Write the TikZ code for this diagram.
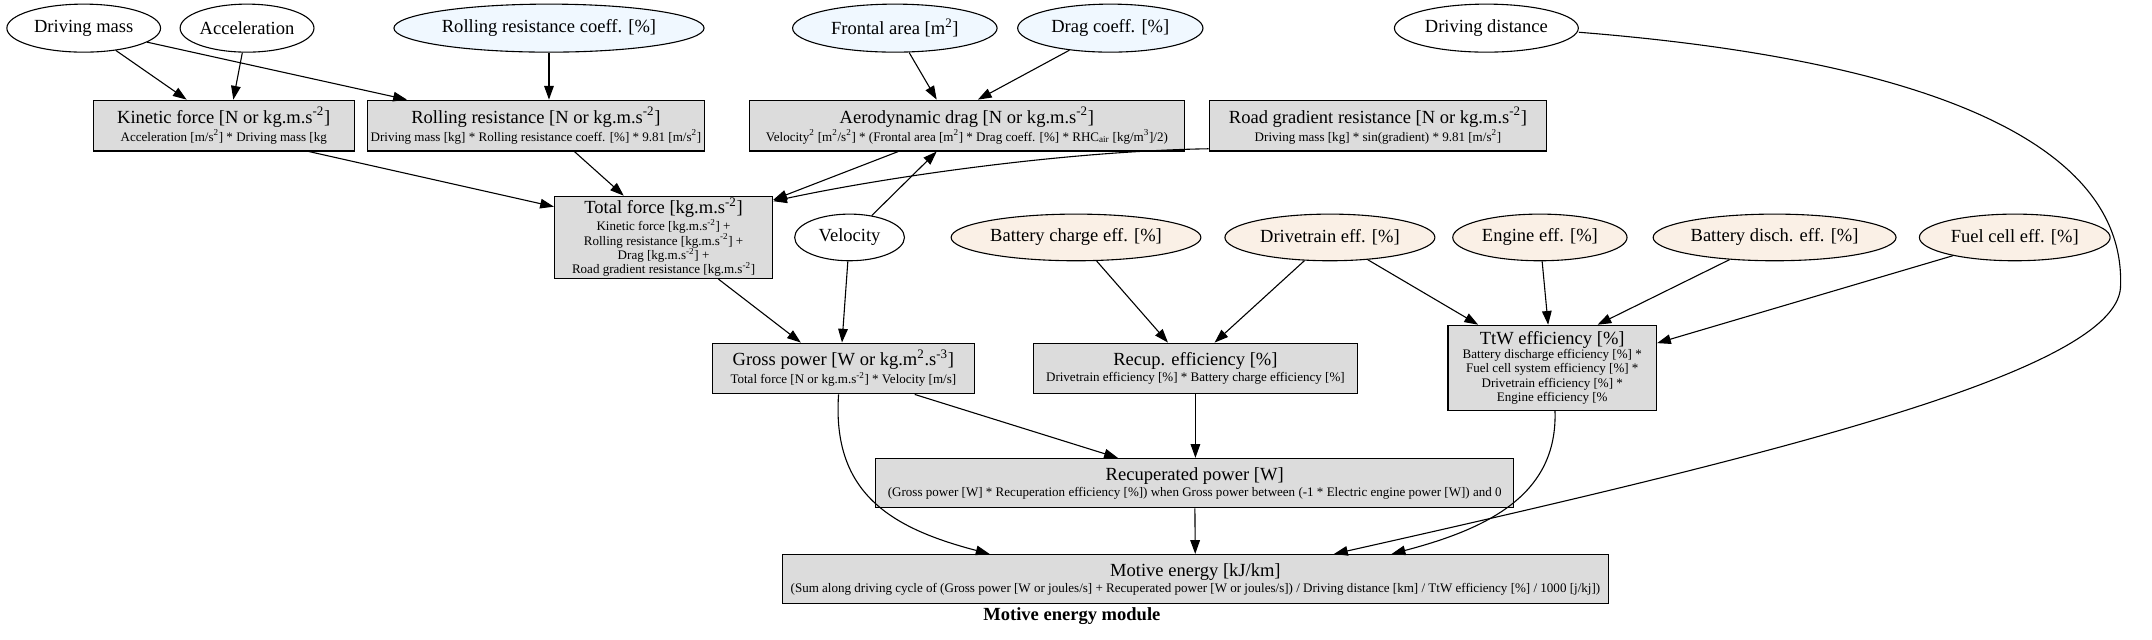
\documentclass[tikz,border=0pt]{standalone}
\usepackage{fontspec}
\setmainfont{Liberation Serif}
\usetikzlibrary{arrows.meta,shapes.geometric}

\definecolor{boxgray}{HTML}{DCDCDC}
\definecolor{inblue}{HTML}{F0F8FF}
\definecolor{inlinen}{HTML}{FAF0E6}
\newcommand\headfont{\fontsize{13.5}{14}\selectfont}
\newcommand\bodyfont{\fontsize{9.5}{10.5}\selectfont}
\tikzset{
  param/.style={draw, ellipse, line width=0.8pt, inner sep=0pt, minimum height=35pt, font=\headfont},
  calc/.style={draw, rectangle, line width=0.8pt, fill=boxgray, align=center, inner sep=0pt, font=\bodyfont},
  link/.style={-{Triangle[length=10pt,width=7pt]}, line width=0.8pt},
}

\begin{document}
\begin{tikzpicture}[x=1pt, y=-1pt]
    \useasboundingbox (0,0) rectangle (1568,465.6);
    % inputs
    \node[param, minimum width=112pt] (drivingmass) at (61,20.5) {Driving mass};
    \node[param, minimum width=96pt] (acceleration) at (180,20.5) {Acceleration};
    \node[param, minimum width=226pt, fill=inblue] (rrcoeff) at (400,20.5) {Rolling resistance coeff. [\%]};
    \node[param, minimum width=149pt, fill=inblue] (frontal) at (652,20.5) {Frontal area [m\textsuperscript{2}]};
    \node[param, minimum width=135pt, fill=inblue] (dragcoeff) at (809,20.5) {Drag coeff. [\%]};
    \node[param, minimum width=134pt] (drivingdistance) at (1083,20.5) {Driving distance};
    \node[param, minimum width=80pt, minimum height=34pt] (velocity) at (619,173) {Velocity};
    \foreach \name/\x/\w/\txt in {batterycharge/784/182/Battery charge eff. [\%],
        drivetrain/969/153/Drivetrain eff. [\%], engine/1122/127/Engine eff. [\%],
        batterydisch/1293/177/Battery disch. eff. [\%], fuelcell/1468/139/Fuel cell eff. [\%]} {
      \node[param, minimum width=\w pt, minimum height=34pt, fill=inlinen] (\name) at (\x,173) {\txt};
    }

    % calculations
    \node[calc, minimum width=190pt, minimum height=37pt] (kinetic) at (163,91.5)
      {{\headfont Kinetic force [N or kg.m.s\textsuperscript{-2}]}\\[1pt]
       Acceleration [m/s\textsuperscript{2}] * Driving mass [kg};
    \node[calc, minimum width=245pt, minimum height=37pt] (rolling) at (390.5,91.5)
      {{\headfont Rolling resistance [N or kg.m.s\textsuperscript{-2}]}\\[1pt]
       Driving mass [kg] * Rolling resistance coeff. [\%] * 9.81 [m/s\textsuperscript{2}]};
    \node[calc, minimum width=317pt, minimum height=37pt] (aero) at (704.5,91.5)
      {{\headfont Aerodynamic drag [N or kg.m.s\textsuperscript{-2}]}\\[1pt]
       Velocity\textsuperscript{2} [m\textsuperscript{2}/s\textsuperscript{2}] * (Frontal area [m\textsuperscript{2}] * Drag coeff. [\%] * RHC\textsubscript{air} [kg/m\textsuperscript{3}]/2)};
    \node[calc, minimum width=246pt, minimum height=37pt] (roadgrad) at (1004,91.5)
      {{\headfont Road gradient resistance [N or kg.m.s\textsuperscript{-2}]}\\[1pt]
       Driving mass [kg] * sin(gradient) * 9.81 [m/s\textsuperscript{2}]};
    \node[calc, minimum width=159pt, minimum height=60pt] (totalforce) at (483.5,173)
      {{\headfont Total force [kg.m.s\textsuperscript{-2}]}\\
       Kinetic force [kg.m.s\textsuperscript{-2}] +\\
       Rolling resistance [kg.m.s\textsuperscript{-2}] +\\
       Drag [kg.m.s\textsuperscript{-2}] +\\
       Road gradient resistance [kg.m.s\textsuperscript{-2}]};
    \node[calc, minimum width=191pt, minimum height=37pt] (grosspower) at (614.5,268.5)
      {{\headfont Gross power [W or kg.m\textsuperscript{2}.s\textsuperscript{-3}]}\\[1pt]
       Total force [N or kg.m.s\textsuperscript{-2}] * Velocity [m/s]};
    \node[calc, minimum width=236pt, minimum height=37pt] (recupeff) at (871,268.5)
      {{\headfont Recup. efficiency [\%]}\\[1pt]
       Drivetrain efficiency [\%] * Battery charge efficiency [\%]};
    \node[calc, minimum width=152pt, minimum height=62pt] (ttw) at (1131,268)
      {{\headfont TtW efficiency [\%]}\\
       Battery discharge efficiency [\%] *\\
       Fuel cell system efficiency [\%] *\\
       Drivetrain efficiency [\%] *\\
       Engine efficiency [\%};
    \node[calc, minimum width=465pt, minimum height=36pt] (recuppower) at (870.5,352)
      {{\headfont Recuperated power [W]}\\[1pt]
       (Gross power [W] * Recuperation efficiency [\%]) when Gross power between (-1 * Electric engine power [W]) and 0};
    \node[calc, minimum width=602pt, minimum height=36pt] (motive) at (871,422)
      {{\headfont Motive energy [kJ/km]}\\[1pt]
       (Sum along driving cycle of (Gross power [W or joules/s] + Recuperated power [W or joules/s]) / Driving distance [km] / TtW efficiency [\%] / 1000 [j/kj])};
    \node[font=\headfont\bfseries] (title) at (781,449) {Motive energy module};

    % connections
    \draw[link] (drivingmass) -- ([xshift=-27pt]kinetic.north);
    \draw[link] (acceleration) -- ([xshift=7pt]kinetic.north);
    \draw[link] (drivingmass) -- ([xshift=-94pt]rolling.north);
    \draw[link] (rrcoeff) -- (rrcoeff |- rolling.north);
    \draw[link] (frontal) -- ([xshift=-22pt]aero.north);
    \draw[link] (dragcoeff) -- ([xshift=8pt]aero.north);
    \draw[link] ([xshift=62pt]kinetic.south) -- ([yshift=-8pt]totalforce.north west);
    \draw[link] ([xshift=28pt]rolling.south) -- ([xshift=-29pt]totalforce.north);
    \draw[link] ([xshift=-50pt]aero.south) -- ([yshift=-3pt]totalforce.north east);
    \draw[link] ([yshift=2pt]roadgrad.south west) .. controls (780,110) and (650,128) .. ([yshift=-4pt]totalforce.north east);
    \draw[link] (velocity) -- ([xshift=-22pt]aero.south);
    \draw[link] (velocity) -- ([xshift=-1pt]grosspower.north);
    \draw[link] ([xshift=40pt]totalforce.south) -- ([xshift=-31pt]grosspower.north);
    \draw[link] (batterycharge) -- ([xshift=-20pt]recupeff.north);
    \draw[link] (drivetrain) -- ([xshift=14pt]recupeff.north);
    \draw[link] (drivetrain) -- ([xshift=-54pt]ttw.north);
    \draw[link] (engine) -- ([xshift=-3pt]ttw.north);
    \draw[link] (batterydisch) -- ([xshift=33pt]ttw.north);
    \draw[link] (fuelcell) -- ([yshift=18pt]ttw.east);
    \draw[link] ([xshift=52pt]grosspower.south) -- ([xshift=-56pt]recuppower.north);
    \draw[link] ([xshift=-3.5pt]grosspower.south) .. controls (606,360) and (650,385) .. ([xshift=-150pt]motive.north);
    \draw[link] (recupeff.south) -- (recupeff.south |- recuppower.north);
    \draw[link] (recuppower) -- (motive);
    \draw[link] ([xshift=2pt]ttw.south) .. controls (1135,360) and (1085,385) .. ([xshift=143pt]motive.north);
    \draw[link] ([yshift=-3pt]drivingdistance.east) .. controls (1420,45) and (1550,110) .. (1545,210)
      .. controls (1540,270) and (1300,330) .. ([xshift=101pt]motive.north);
\end{tikzpicture}
\end{document}
